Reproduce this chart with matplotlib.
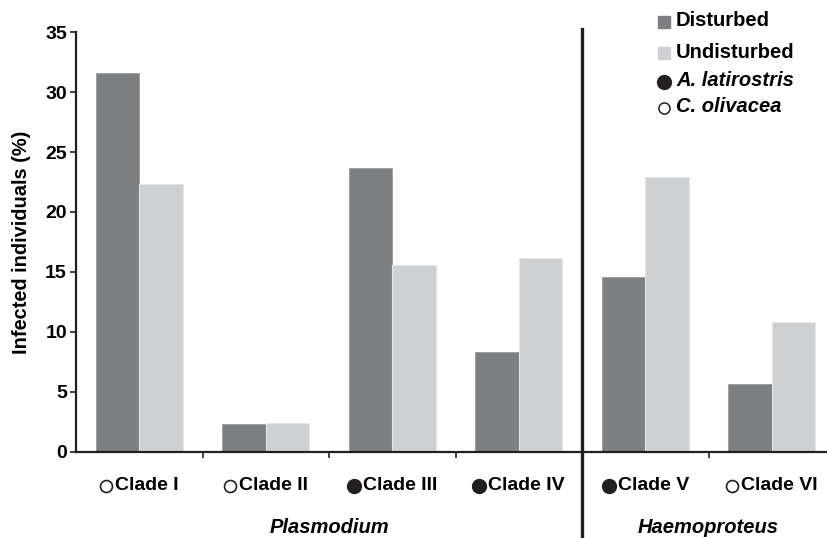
import numpy as np
import matplotlib
matplotlib.use('Agg')
import matplotlib.pyplot as plt
from matplotlib.lines import Line2D
from matplotlib.transforms import blended_transform_factory, offset_copy

plt.rcParams['font.family'] = ['Liberation Sans', 'DejaVu Sans']
plt.rcParams['font.weight'] = 'bold'

# data
clades = ['Clade I', 'Clade II', 'Clade III', 'Clade IV', 'Clade V', 'Clade VI']
host_filled = [False, False, True, True, True, False]
disturbed = [31.6, 2.33, 23.7, 8.3, 14.6, 5.7]
undisturbed = [22.3, 2.42, 15.6, 16.2, 22.9, 10.8]
genera = ['Plasmodium', 'Haemoproteus']
genus_pos = [1.5, 4.5]
legend_labels = ['Disturbed', 'Undisturbed', 'A. latirostris', 'C. olivacea']

dark = '#7e7f83'
light = '#cfd0d2'
ink = '#231f20'

W, H = 827, 538
fig = plt.figure(figsize=(W / 100, H / 100), dpi=100)
ax = fig.add_axes([76 / W, (H - 452) / H, 759 / W, 420 / H])

x = np.arange(len(clades))
w = 0.344
ax.bar(x - w / 2, disturbed, w, color=dark, edgecolor='#9a9b9e', linewidth=0.6)
ax.bar(x + w / 2, undisturbed, w, color=light, edgecolor='#e4e5e6', linewidth=0.8)

ax.set_xlim(-0.5, 5.5)
ax.set_ylim(0, 35)
for s in ['top', 'right']:
    ax.spines[s].set_visible(False)
for s in ['left', 'bottom']:
    ax.spines[s].set_linewidth(1.6)
    ax.spines[s].set_color(ink)

ax.set_yticks(np.arange(0, 36, 5))
ax.tick_params(axis='y', length=4, width=1.2, color=ink, pad=2.5, labelsize=14)
for t in ax.get_yticklabels():
    t.set_fontweight('bold')

ax.set_xticks([0.5, 1.5, 2.5, 4.5])
ax.set_xticklabels([])
ax.tick_params(axis='x', length=4, width=1.2, color=ink)

ax.set_ylabel('Infected individuals (%)', fontsize=14.4, fontweight='bold', labelpad=10)

tr = blended_transform_factory(ax.transData, ax.transAxes)

# clade labels, each with a host circle in front
labels = []
for xi, c in zip(x, clades):
    t = ax.text(xi, -0.0786, c, transform=offset_copy(tr, fig=fig, x=8, units='dots'),
                ha='center', va='center', fontsize=14, fontweight='bold')
    labels.append(t)
fig.canvas.draw()
r = fig.canvas.get_renderer()
for t, filled in zip(labels, host_filled):
    bb = t.get_window_extent(r)
    cx = (bb.x0 - 9) / W
    cy = (bb.y0 + bb.y1) / 2 / H - 1 / H
    if filled:
        st = dict(marker='o', ms=10, mfc=ink, mec=ink)
    else:
        st = dict(marker='o', ms=8.6, mfc='white', mec=ink, mew=1.2)
    fig.add_artist(Line2D([cx], [cy], transform=fig.transFigure, ls='none', **st))

# genus labels under the clades
for g, p in zip(genera, genus_pos):
    ax.text(p, -0.179, g, transform=tr, ha='center', va='center',
            fontsize=14.5, fontweight='bold', style='italic')

# separator between genera
ax.axvline(3.5, ymin=-0.21, ymax=1.0075, clip_on=False, lw=2.4, color=ink)

# legend drawn by hand
rows = [21, 52, 81, 107]
styles = [dict(marker='s', ms=8.6, mfc=dark, mec=dark),
          dict(marker='s', ms=8.6, mfc=light, mec=light),
          dict(marker='o', ms=10, mfc=ink, mec=ink),
          dict(marker='o', ms=8, mfc='white', mec=ink, mew=1.1)]
for lab, yy, st in zip(legend_labels, rows, styles):
    yf = 1 - yy / H
    fig.add_artist(Line2D([664 / W], [yf - 1 / H], transform=fig.transFigure, ls='none', **st))
    it = 'italic' if lab.startswith(('A.', 'C.')) else 'normal'
    fig.text(676 / W, yf, lab, ha='left', va='center', fontsize=14.5,
             fontweight='bold', style=it)

fig.savefig('out.png', dpi=100)
